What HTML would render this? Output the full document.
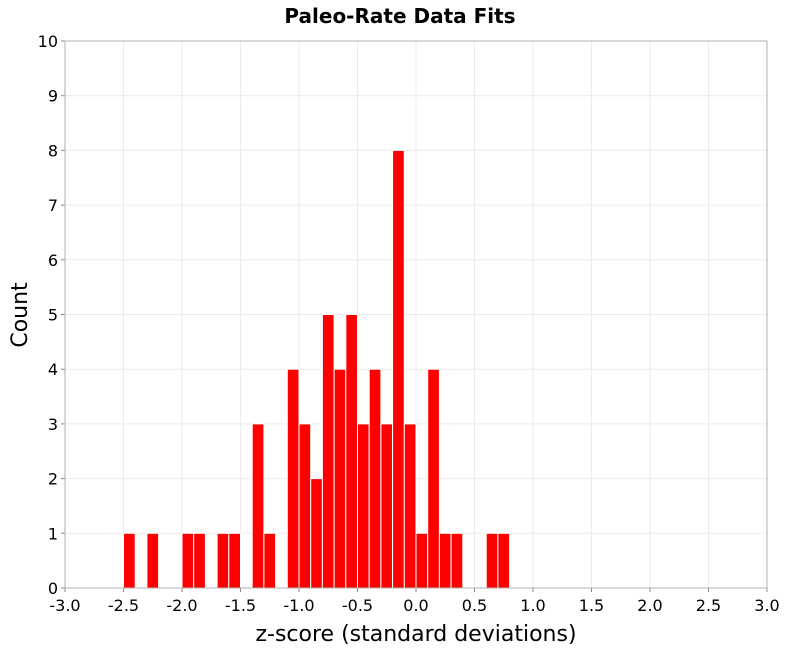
<!DOCTYPE html>
<html><head><meta charset="utf-8"><style>
body{margin:0;background:#fff;font-family:"DejaVu Sans","Liberation Sans",sans-serif}
</style></head><body>
<svg id="chart" width="800" height="650" xmlns="http://www.w3.org/2000/svg" font-family="DejaVu Sans, Liberation Sans, sans-serif">
<text x="400" y="23" text-anchor="middle" font-size="20" font-weight="bold">Paleo-Rate Data Fits</text>
<g id="grid"></g><g id="bars"></g><g id="axes"></g>
<text x="416" y="641" text-anchor="middle" font-size="22">z-score (standard deviations)</text>
<text transform="translate(27,315) rotate(-90)" text-anchor="middle" font-size="22">Count</text>
</svg>
<script>
const binStarts=[-2.5,-2.3,-2.0,-1.9,-1.7,-1.6,-1.4,-1.3,-1.1,-1.0,-0.9,-0.8,-0.7,-0.6,-0.5,-0.4,-0.3,-0.2,-0.1,0.0,0.1,0.2,0.3,0.6,0.7];
const counts=[1,1,1,1,1,1,3,1,4,3,2,5,4,5,3,4,3,8,3,1,4,1,1,1,1];
const binWidth=0.1;
const xTicks=[-3,-2.5,-2,-1.5,-1,-0.5,0,0.5,1,1.5,2,2.5,3];
const yTicks=[0,1,2,3,4,5,6,7,8,9,10];
const L=65,R=767,T=41,B=588;
const xs=v=>L+(v+3)/6*(R-L);
const ys=v=>B-v/10*(B-T);
const NS="http://www.w3.org/2000/svg";
function mk(tag,attrs,parent){const e=document.createElementNS(NS,tag);for(const k in attrs)e.setAttribute(k,attrs[k]);parent.appendChild(e);return e;}
const grid=document.getElementById('grid'),bars=document.getElementById('bars'),axes=document.getElementById('axes');
xTicks.forEach(t=>{const l=mk('line',{x1:xs(t),x2:xs(t),y1:T,y2:B,stroke:'#ebebeb'},grid);


const tx=mk('text',{x:xs(t),y:B+23,'text-anchor':'middle','font-size':16},axes);tx.textContent=t.toFixed(1);


mk('line',{x1:xs(t),x2:xs(t),y1:B,y2:B+4,stroke:'#888'},axes);});
yTicks.forEach(t=>{const l=mk('line',{x1:L,x2:R,y1:ys(t),y2:ys(t),stroke:'#ebebeb'},grid);


const tx=mk('text',{x:L-7,y:ys(t)+6,'text-anchor':'end','font-size':16},axes);tx.textContent=t;


mk('line',{x1:L-4,x2:L,y1:ys(t),y2:ys(t),stroke:'#888'},axes);});
binStarts.forEach((b,i)=>{const x0=xs(b),x1=xs(b+binWidth);
const r=mk('rect',{x:x0,y:ys(counts[i]),width:x1-x0,height:B-ys(counts[i]),fill:'#ff0000',stroke:'#fff','stroke-width':1},bars);

});
const fr=mk('rect',{x:L,y:T,width:R-L,height:B-T,fill:'none',stroke:'#b0b0b0'},axes);


</script>
</body></html>
